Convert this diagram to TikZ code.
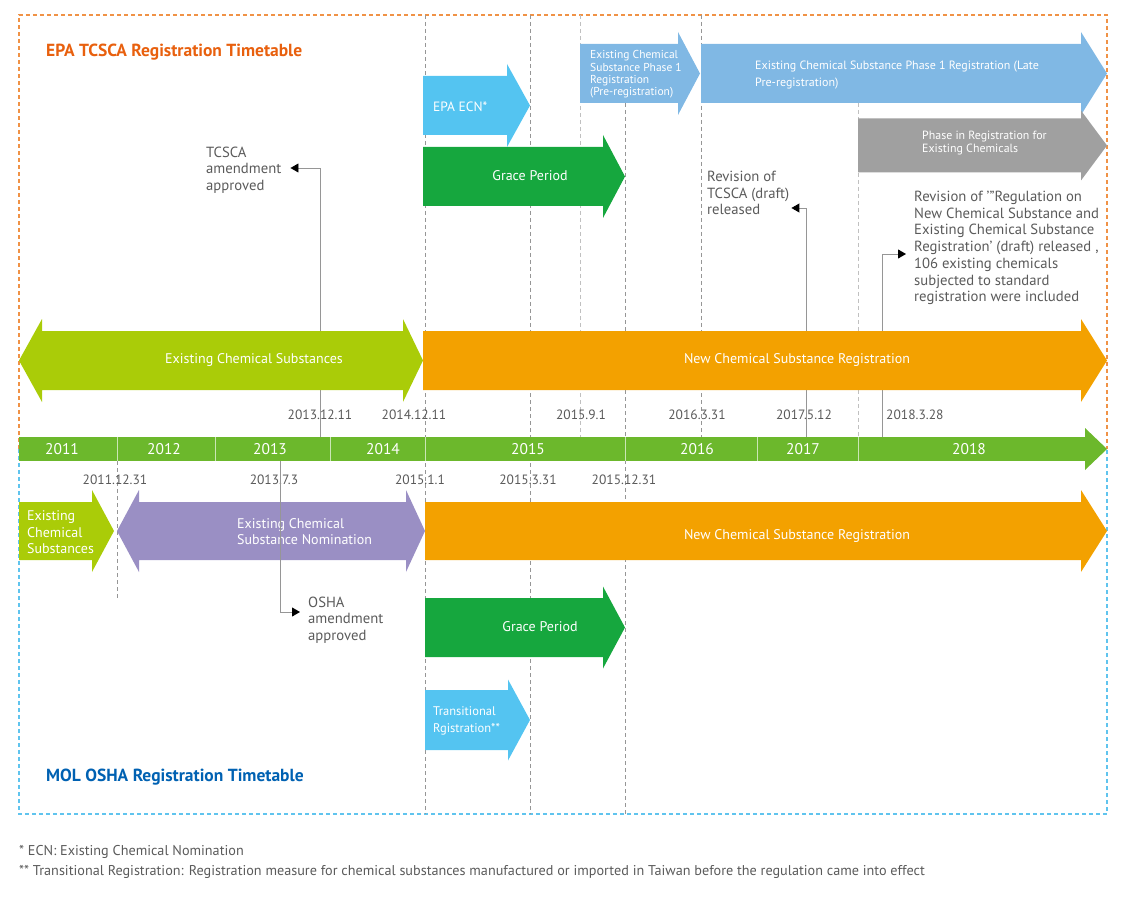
\documentclass[tikz,border=0pt]{standalone}
\usepackage{fontspec}
\setmainfont{PT Sans}
\usepackage{tikz}
\usetikzlibrary{arrows.meta, positioning, calc}

\definecolor{epaorange}{RGB}{232,96,14}
\definecolor{molblue}{RGB}{0,97,178}
\definecolor{frameorange}{RGB}{240,146,70}
\definecolor{frameblue}{RGB}{96,196,238}
\definecolor{ecnblue}{RGB}{84,196,241}
\definecolor{phaseblue}{RGB}{128,184,228}
\definecolor{gracegreen}{RGB}{22,167,62}
\definecolor{phasegray}{RGB}{160,160,160}
\definecolor{limegreen}{RGB}{170,204,8}
\definecolor{ncsorange}{RGB}{243,161,0}
\definecolor{nompurple}{RGB}{154,143,196}
\definecolor{tlgreen}{RGB}{108,184,44}
\definecolor{txtgray}{RGB}{90,90,90}
\definecolor{guidegray}{RGB}{150,150,150}

% right block arrow: colour, left x, head x, tip x, mid y, half body, half head
\newcommand{\rblock}[7]{\fill[#1] ({#2},{#5-#6}) -- ({#3},{#5-#6}) -- ({#3},{#5-#7}) -- ({#4},{#5})
  -- ({#3},{#5+#7}) -- ({#3},{#5+#6}) -- ({#2},{#5+#6}) -- cycle;}
% double block arrow: colour, left tip, left head, right head, right tip, mid y, half body, half head
\newcommand{\dblock}[8]{\fill[#1] ({#2},{#6}) -- ({#3},{#6-#8}) -- ({#3},{#6-#7}) -- ({#4},{#6-#7})
  -- ({#4},{#6-#8}) -- ({#5},{#6}) -- ({#4},{#6+#8}) -- ({#4},{#6+#7}) -- ({#3},{#6+#7})
  -- ({#3},{#6+#8}) -- cycle;}

\begin{document}
\begin{tikzpicture}[x=1pt, y=-1pt,
    guide/.style={guidegray, line width=0.8pt, dash pattern=on 4pt off 3pt},
    callout/.style={guidegray, line width=0.9pt, -{Triangle[length=8pt, width=9pt, color=black]}},
    title/.style={font=\fontsize{17.5}{18}\selectfont\bfseries, anchor=west, inner sep=0},
    lbl/.style={font=\fontsize{14.7}{16.7}\selectfont, text=txtgray, align=left, anchor=west, inner sep=0},
    note/.style={font=\fontsize{14.2}{16}\selectfont, text=txtgray, anchor=west, inner sep=0},
    date/.style={font=\fontsize{13.5}{16}\selectfont, text=txtgray, inner sep=0, anchor=base},
    yr/.style={font=\fontsize{15.5}{16}\selectfont, text=white, inner sep=0, anchor=base},
    armtxt/.style={font=\fontsize{14}{16.5}\selectfont, text=white, align=left, inner sep=0},
    smalltxt/.style={font=\fontsize{11.5}{12.3}\selectfont, text=white, align=left, anchor=west, inner sep=0}]

\useasboundingbox (0,0) rectangle (1125,904);

% Frames: EPA above the time line, MOL below it
\draw[frameorange, line width=1.2pt, dash pattern=on 4pt off 3pt] (19,449) -- (19,15) -- (1107,15) -- (1107,449);
\draw[frameblue, line width=1.2pt, dash pattern=on 4pt off 3pt] (19,449) -- (19,814) -- (1107,814) -- (1107,449);

% Guide lines
\draw[guide] (425,15) -- (425,814);
\draw[guide] (530,15) -- (530,814);
\draw[guide] (625,103) -- (625,814);
\draw[guide, guidegray!60] (580,15) -- (580,437);
\draw[guide] (701,15) -- (701,437);
\draw[guide, guidegray!60] (858,103) -- (858,437);
\draw[guide] (117,461) -- (117,600);

% Time line
\fill[tlgreen] (19,437) rectangle (1085,461);
\fill[tlgreen] (1085,428) -- (1107,449) -- (1085,470) -- cycle;
\foreach \x in {117,215,330,425,625,757,858}
  \draw[white!65!tlgreen, line width=1pt] (\x,437) -- (\x,461);
\foreach \x/\y in {62/2011, 164/2012, 270/2013, 383/2014, 528/2015, 697/2016, 803/2017, 969/2018}
  \node[yr] (yr-\y) at (\x,454.5) {\y};

% Points on the time line
\coordinate (tl-131211) at (320,437);
\coordinate (tl-170512) at (806,437);
\coordinate (tl-180328) at (882,437);
\coordinate (tl-130703) at (280,461);

% EPA TCSCA
\node[title, text=epaorange] (epa-title) at (46,52.5) {EPA TCSCA Registration Timetable};

\rblock{ecnblue}{423}{507}{530}{105.5}{29.5}{41.5}
\node[armtxt, anchor=west, font=\fontsize{13.5}{14}\selectfont] (epa-ecn) at (433,107) {EPA ECN*};

\rblock{gracegreen}{423}{603}{625}{176.5}{29.5}{41.5}
\node[armtxt] (epa-grace) at (530,176) {Grace Period};

\rblock{phaseblue}{580}{678}{700}{73.5}{29.5}{41.5}
\node[smalltxt] (phase-pre) at (590,74.5) {Existing Chemical\\Substance Phase 1\\Registration\\(Pre-registration)};

\rblock{phaseblue}{701}{1081}{1107}{73.5}{29.5}{41.5}
\node[smalltxt, font=\fontsize{12}{17}\selectfont] (phase-late) at (755,75.5) {Existing Chemical Substance Phase 1 Registration (Late\\Pre-registration)};

\rblock{phasegray}{858}{1081}{1107}{145.5}{27}{35}
\node[smalltxt, font=\fontsize{11.9}{13}\selectfont] (phase-in) at (922,143.5) {Phase in Registration for\\Existing Chemicals};

\node[lbl] (tcsca-txt) at (206,170) {TCSCA\\amendment\\approved};
\node[lbl] (rev-tcsca) at (707,193) {Revision of\\TCSCA (draft)\\released};
\node[lbl] (rev-reg) at (914,248) {Revision of '"Regulation on\\New Chemical Substance and\\Existing Chemical Substance\\Registration' (draft) released ,\\106 existing chemicals\\subjected to standard\\registration were included};

\draw[callout] (tl-131211) |- ([xshift=9pt, yshift=2pt]tcsca-txt.east);
\draw[callout] (tl-170512) |- ([xshift=2pt, yshift=-15pt]rev-tcsca.east);
\draw[callout] (tl-180328) |- ([xshift=-8pt, yshift=-6pt]rev-reg.west);

\dblock{limegreen}{19}{42}{403}{423}{360.5}{29.5}{41.5}
\node[armtxt] (epa-existing) at (254,360) {Existing Chemical Substances};

\rblock{ncsorange}{423}{1081}{1107}{360.5}{29.5}{41.5}
\node[armtxt] (epa-new) at (797,360) {New Chemical Substance Registration};

% Dates above the time line
\node[date] (d-131211) at (320,419.5) {2013.12.11};
\node[date] (d-141211) at (414,419.5) {2014.12.11};
\node[date] (d-150901) at (581,419.5) {2015.9.1};
\node[date] (d-160331) at (697,419.5) {2016.3.31};
\node[date] (d-170512) at (804,419.5) {2017.5.12};
\node[date, anchor=base west] (d-180328) at (886,419.5) {2018.3.28};

% Dates below the time line
\node[date] (d-111231) at (115,484.5) {2011.12.31};
\node[date] (d-130703) at (274,484.5) {2013.7.3};
\node[date] (d-150101) at (420,484.5) {2015.1.1};
\node[date] (d-150331) at (528,484.5) {2015.3.31};
\node[date] (d-151231) at (624,484.5) {2015.12.31};

% MOL OSHA
\rblock{limegreen}{19}{92}{114}{531}{29}{41}
\node[armtxt, anchor=west] (mol-existing) at (27,532.5) {Existing\\Chemical\\Substances};

\dblock{nompurple}{117}{139}{406}{425}{531}{29}{41}
\node[armtxt, anchor=west, font=\fontsize{14}{16}\selectfont] (mol-nomination) at (237,532) {Existing Chemical\\Substance Nomination};

\rblock{ncsorange}{425}{1081}{1107}{531}{29}{41}
\node[armtxt] (mol-new) at (797,536) {New Chemical Substance Registration};

\node[lbl] (osha-txt) at (308,620) {OSHA\\amendment\\approved};
\draw[callout] (tl-130703) |- ([xshift=-8pt, yshift=8pt]osha-txt.west);

\rblock{gracegreen}{425}{603}{625}{627.5}{29.5}{41}
\node[armtxt] (mol-grace) at (540,627) {Grace Period};

\rblock{ecnblue}{425}{508}{530}{720}{30}{40.5}
\node[smalltxt, font=\fontsize{12.5}{17}\selectfont] (mol-trans) at (433,721) {Transitional\\Rgistration**};

\node[title, text=molblue] (mol-title) at (46,777.5) {MOL OSHA Registration Timetable};

% Notes
\node[note] (note-ecn) at (19,852) {* ECN: Existing Chemical Nomination};
\node[note] (note-trans) at (19,872) {** Transitional Registration: Registration measure for chemical substances manufactured or imported in Taiwan before the regulation came into effect};

\end{tikzpicture}
\end{document}
